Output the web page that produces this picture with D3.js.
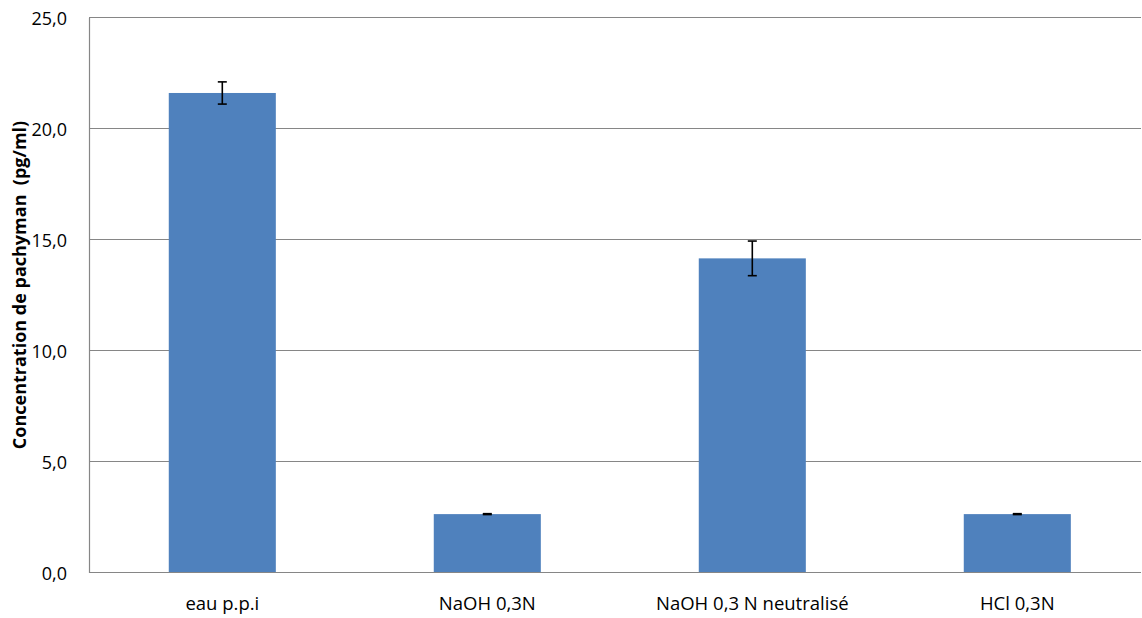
<!DOCTYPE html>
<html><head><meta charset="utf-8">
<script src="https://cdn.jsdelivr.net/npm/d3@7"></script>
<style>body{margin:0;background:#fff}svg{display:block}</style>
</head><body>
<svg id="c" width="1142" height="618"></svg>
<script>
const categories = ["eau p.p.i", "NaOH 0,3N", "NaOH 0,3 N neutralisé", "HCl 0,3N"];
const values = [21.6, 2.63, 14.15, 2.63];
const errors = [0.5, 0.02, 0.78, 0.02];
const yTicks = [0, 5, 10, 15, 20, 25];
const yLabel = "Concentration de pachyman  (pg/ml)";

const svg = d3.select("#c");
const m = {left: 89, right: 1141, top: 17.5, bottom: 572.5};
const font = "'Open Sans', 'Liberation Sans', sans-serif";

const x = d3.scaleBand().domain(categories).range([89.8, 1149.8]).paddingInner(0.596).paddingOuter(0.298);
const y = d3.scaleLinear().domain([0, 25]).range([m.bottom, m.top]);

// gridlines
svg.append("g").selectAll("line").data(yTicks.filter(d => d > 0)).join("line")
  .attr("x1", m.left).attr("x2", m.right)
  .attr("y1", d => y(d)).attr("y2", d => y(d))
  .attr("stroke", "#868686").attr("stroke-width", 1.2);

// bars
svg.append("g").selectAll("rect").data(categories).join("rect")
  .attr("x", d => x(d)).attr("width", x.bandwidth())
  .attr("y", (d, i) => y(values[i])).attr("height", (d, i) => y(0) - y(values[i]))
  .attr("fill", "#4f81bd");

// error bars
const eb = svg.append("g").attr("stroke", "#000").attr("stroke-width", 1.6);
categories.forEach((c, i) => {
  const cx = x(c) + x.bandwidth() / 2;
  const t = y(values[i] + errors[i]), b = y(values[i] - errors[i]);
  eb.append("line").attr("x1", cx).attr("x2", cx).attr("y1", t).attr("y2", b);
  eb.append("line").attr("x1", cx - 4.5).attr("x2", cx + 4.5).attr("y1", t).attr("y2", t);
  eb.append("line").attr("x1", cx - 4.5).attr("x2", cx + 4.5).attr("y1", b).attr("y2", b);
});

// axes
const yAxis = d3.axisLeft(y).tickValues(yTicks).tickFormat(d => d3.format(".1f")(d).replace(".", ",")).tickSize(0).tickPadding(22);
const gy = svg.append("g").attr("transform", `translate(${m.left},0)`).call(yAxis);
gy.select(".domain").attr("stroke", "#868686").attr("stroke-width", 1.2);
gy.selectAll("text").attr("font-family", font).attr("font-size", 18).attr("fill", "#000").attr("dy", "0.4em");

const xAxis = d3.axisBottom(x).tickSize(0).tickPadding(0);
const gx = svg.append("g").attr("transform", `translate(0,${m.bottom})`).call(xAxis);
gx.select(".domain").attr("d", `M${m.left},0H${m.right}`).attr("stroke", "#868686").attr("stroke-width", 1.2);
gx.selectAll("text").attr("font-family", font).attr("font-size", 18.5).attr("fill", "#000")
  .attr("dy", null).attr("y", 37.5);

svg.append("text").attr("transform", `translate(26,285) rotate(-90)`)
  .attr("text-anchor", "middle").attr("font-family", font).attr("font-size", 18).attr("font-weight", "bold")
  .style("white-space", "pre")
  .text(yLabel);
</script>
</body></html>
